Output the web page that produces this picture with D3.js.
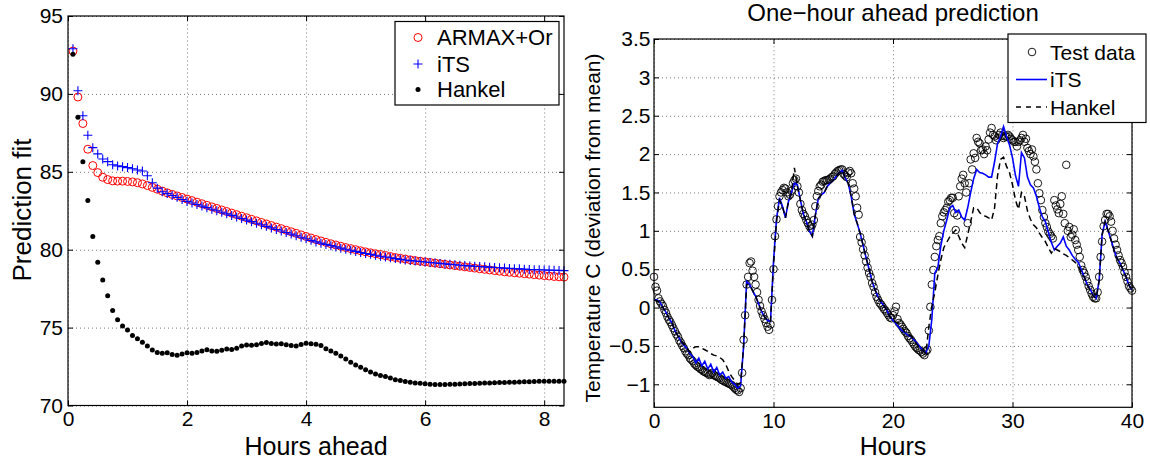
<!DOCTYPE html>
<html>
<head>
<meta charset="utf-8">
<script src="https://cdn.jsdelivr.net/npm/d3@7"></script>
<style>
body { margin: 0; background: #fff; }
svg { font-family: "Liberation Sans", Arial, Helvetica, sans-serif; }
.grid line { stroke: #7a7a7a; stroke-dasharray: 1,3; }
.grid path { display: none; }
</style>
</head>
<body>
<svg id="chart"></svg>
<script>
// ---- left panel: fit vs horizon (steps of 5 min) ----
const horizonHours = d3.range(1, 101).map(k => k / 12);

const armaxFit = [
  92.75,89.8,88.1,86.45,85.4,84.95,84.65,84.5,84.42,84.4,
  84.4,84.38,84.35,84.3,84.22,84.12,84.0,83.88,83.76,83.65,
  83.55,83.45,83.35,83.25,83.15,83.05,82.95,82.85,82.75,82.65,
  82.55,82.45,82.35,82.25,82.15,82.05,81.95,81.85,81.75,81.65,
  81.55,81.45,81.35,81.25,81.15,81.05,80.95,80.85,80.75,80.65,
  80.56,80.47,80.38,80.3,80.22,80.14,80.07,80.0,79.93,79.86,
  79.8,79.74,79.68,79.62,79.56,79.5,79.45,79.4,79.35,79.3,
  79.26,79.22,79.18,79.14,79.1,79.06,79.02,78.98,78.94,78.9,
  78.86,78.82,78.78,78.74,78.7,78.66,78.62,78.58,78.55,78.52,
  78.49,78.46,78.43,78.4,78.37,78.34,78.31,78.28,78.26,78.24
];
const itsFit = [
  92.9,90.2,88.6,87.35,86.55,86.15,85.82,85.65,85.45,85.38,
  85.33,85.27,85.2,85.12,85.05,84.75,84.3,83.95,83.72,83.6,
  83.48,83.36,83.22,83.1,83.0,82.9,82.8,82.7,82.6,82.5,
  82.4,82.3,82.2,82.1,82.0,81.9,81.8,81.7,81.6,81.5,
  81.4,81.3,81.2,81.1,81.0,80.9,80.8,80.7,80.6,80.5,
  80.42,80.34,80.26,80.18,80.1,80.03,79.96,79.89,79.82,79.76,
  79.7,79.64,79.58,79.53,79.48,79.43,79.38,79.34,79.3,79.27,
  79.24,79.21,79.18,79.15,79.12,79.09,79.06,79.03,79.0,78.98,
  78.96,78.94,78.92,78.9,78.88,78.86,78.84,78.82,78.8,78.78,
  78.77,78.75,78.73,78.72,78.71,78.7,78.69,78.68,78.67,78.66
];
const hankelFit = [
  92.55,88.5,85.65,83.15,80.85,79.2,78.05,77.05,76.1,75.5,
  75.1,74.85,74.5,74.28,74.06,73.82,73.56,73.4,73.36,73.39,
  73.28,73.22,73.3,73.38,73.36,73.4,73.5,73.58,73.5,73.48,
  73.55,73.62,73.6,73.68,73.82,73.88,73.86,73.9,73.98,74.05,
  73.98,73.95,73.97,73.9,73.85,73.82,73.92,74.0,73.97,73.93,
  73.85,73.65,73.5,73.35,73.18,72.98,72.78,72.6,72.45,72.3,
  72.15,72.02,71.92,71.86,71.76,71.66,71.6,71.54,71.49,71.45,
  71.43,71.4,71.37,71.35,71.34,71.35,71.36,71.37,71.38,71.4,
  71.41,71.42,71.43,71.44,71.45,71.46,71.47,71.48,71.49,71.5,
  71.51,71.52,71.53,71.54,71.55,71.55,71.55,71.55,71.55,71.56
];
const leftXTicks = [0, 2, 4, 6, 8];
const leftYTicks = [70, 75, 80, 85, 90, 95];

// ---- right panel: one-hour ahead prediction over 40 h ----
// test data every 7.5 min, predictions every 15 min
const testHours = d3.range(0, 321).map(i => i / 8);
const hours = d3.range(0, 161).map(i => i * 0.25);

const testData = [
  0.40,0.27,0.22,0.12,0.08,0.05,0.02,-0.03,
  -0.07,-0.12,-0.16,-0.19,-0.23,-0.27,-0.31,-0.35,
  -0.38,-0.43,-0.46,-0.50,-0.53,-0.57,-0.60,-0.62,
  -0.66,-0.68,-0.70,-0.73,-0.75,-0.77,-0.78,-0.80,
  -0.81,-0.83,-0.84,-0.85,-0.86,-0.88,-0.87,-0.85,
  -0.88,-0.89,-0.90,-0.91,-0.92,-0.94,-0.95,-0.96,
  -0.97,-0.98,-0.99,-1.00,-1.01,-1.03,-1.05,-1.07,
  -1.08,-1.10,-1.05,-0.85,-0.42,-0.10,0.30,0.40,
  0.58,0.60,0.48,0.40,0.30,0.20,0.10,0.02,
  -0.05,-0.10,-0.15,-0.20,-0.25,-0.29,-0.22,0.10,
  0.50,0.93,1.15,1.32,1.45,1.50,1.53,1.56,
  1.55,1.50,1.45,1.47,1.52,1.62,1.66,1.68,
  1.58,1.50,1.35,1.27,1.22,1.19,1.14,1.10,
  1.06,1.03,1.08,1.14,1.32,1.45,1.52,1.58,
  1.60,1.64,1.65,1.66,1.66,1.67,1.68,1.70,
  1.71,1.74,1.76,1.78,1.79,1.80,1.80,1.74,
  1.72,1.70,1.76,1.78,1.75,1.62,1.55,1.45,
  1.30,1.21,0.92,0.85,0.76,0.68,0.60,0.52,
  0.45,0.40,0.32,0.27,0.20,0.14,0.10,0.06,
  0.04,0.01,-0.02,-0.04,-0.07,-0.10,-0.13,-0.14,
  -0.10,-0.05,0.01,-0.15,-0.20,-0.22,-0.25,-0.28,
  -0.31,-0.33,-0.37,-0.40,-0.42,-0.45,-0.48,-0.51,
  -0.53,-0.55,-0.56,-0.58,-0.60,-0.62,-0.57,-0.55,
  -0.30,0.01,0.30,0.49,0.66,0.80,0.88,0.93,
  1.10,1.19,1.24,1.27,1.30,1.38,1.40,1.43,
  1.43,1.23,1.01,1.20,1.45,1.58,1.68,1.73,
  1.62,1.50,1.10,1.62,1.93,1.80,2.01,1.95,
  2.21,2.16,2.14,2.05,2.06,2.00,2.10,2.05,
  2.19,2.28,2.34,2.25,2.23,2.18,2.21,2.25,
  2.28,2.24,2.21,2.23,2.23,2.25,2.23,2.20,
  2.18,2.16,2.16,2.10,2.16,2.18,2.21,2.25,
  2.16,2.20,2.08,2.04,2.00,2.06,1.97,1.90,
  1.80,1.62,1.49,1.40,1.27,1.18,1.10,1.05,
  0.99,0.96,0.93,0.90,1.40,1.33,1.28,1.23,
  1.35,1.45,1.22,1.10,1.86,1.00,1.05,0.92,
  0.95,1.02,0.88,0.82,0.75,0.66,0.55,0.49,
  0.45,0.40,0.34,0.28,0.23,0.18,0.14,0.12,
  0.12,0.20,0.40,0.66,0.86,1.06,1.14,1.22,
  1.22,1.19,1.12,1.00,0.90,0.82,0.75,0.68,
  0.62,0.58,0.53,0.46,0.40,0.34,0.28,0.25,
  0.22
];
const itsPred = [
  0.10,0.10,0.07,0.00,  -0.06,-0.14,-0.20,-0.30,
  -0.37,-0.44,-0.49,-0.53,  -0.60,-0.64,-0.72,-0.66,
  -0.76,-0.70,-0.80,-0.74,  -0.84,-0.78,-0.88,-0.84,
  -0.92,-0.90,-0.97,-1.00,  -1.05,-1.02,-0.50,0.34,
  0.30,0.22,0.15,0.05,  -0.05,-0.12,-0.17,-0.18,
  0.60,1.15,1.43,1.32,  1.17,1.38,1.50,1.62,
  1.60,1.40,1.22,1.12,  1.00,0.93,1.20,1.42,
  1.47,1.50,1.58,1.62,  1.66,1.71,1.76,1.79,
  1.69,1.62,1.45,1.22,  1.10,0.97,0.81,0.65,
  0.50,0.34,0.23,0.14,  0.07,0.02,-0.04,-0.12,
  -0.17,-0.21,-0.26,-0.30,  -0.33,-0.36,-0.38,-0.42,
  -0.46,-0.51,-0.56,-0.59,  -0.50,-0.15,0.45,0.52,
  0.80,1.00,1.14,1.30,  1.33,1.24,1.27,1.18,
  1.14,1.30,1.50,1.68,  1.80,1.76,1.75,1.73,
  1.70,1.70,1.90,2.14,  2.23,2.36,2.23,2.12,
  1.95,1.72,1.58,2.02,  1.95,1.70,1.60,1.56,
  1.45,1.30,1.18,1.12,  0.98,0.85,0.75,0.80,
  0.84,0.92,0.80,0.75,  0.68,0.63,0.59,0.50,
  0.40,0.30,0.24,0.16,  0.12,0.35,0.95,1.12,
  1.00,0.88,0.75,0.64,  0.58,0.49,0.40,0.29,
  0.23
];
const hankelPred = [
  0.10,0.09,0.06,0.00,  -0.06,-0.14,-0.20,-0.30,
  -0.37,-0.43,-0.48,-0.53,  -0.58,-0.53,-0.51,-0.51,
  -0.53,-0.55,-0.57,-0.60,  -0.62,-0.63,-0.65,-0.68,
  -0.74,-0.83,-0.90,-0.95,  -1.00,-0.98,-0.50,0.30,
  0.30,0.22,0.15,0.05,  -0.05,-0.12,-0.17,-0.18,
  0.55,1.12,1.40,1.32,  1.17,1.38,1.50,1.82,
  1.58,1.40,1.22,1.12,  1.00,0.93,1.20,1.42,
  1.47,1.50,1.58,1.62,  1.66,1.71,1.76,1.79,
  1.69,1.62,1.45,1.22,  1.10,0.97,0.81,0.65,
  0.50,0.34,0.23,0.14,  0.07,0.02,-0.04,-0.12,
  -0.18,-0.19,-0.22,-0.26,  -0.32,-0.35,-0.37,-0.42,
  -0.48,-0.53,-0.56,-0.60,  -0.25,0.02,0.20,0.42,
  0.62,0.78,0.85,0.92,  0.97,1.01,0.93,0.84,
  0.78,0.95,1.12,1.30,  1.30,1.24,1.20,1.19,
  1.17,1.14,1.30,1.72,  1.93,1.96,1.84,1.76,
  1.60,1.40,1.28,1.50,  1.45,1.26,1.15,1.08,
  1.04,0.97,0.91,0.86,  0.78,0.71,0.77,0.75,
  0.73,0.70,0.68,0.65,  0.62,0.59,0.54,0.46,
  0.40,0.30,0.22,0.15,  0.12,0.35,0.95,1.12,
  1.00,0.88,0.75,0.64,  0.58,0.49,0.40,0.29,
  0.23
];
const rightXTicks = [0, 10, 20, 30, 40];
const rightYTicks = [-1, -0.5, 0, 0.5, 1, 1.5, 2, 2.5, 3, 3.5];

// ---- setup ----
const width = 1150, height = 461;
const svg = d3.select("#chart").attr("width", width).attr("height", height);

const xL = d3.scaleLinear().domain([0, 100 / 12]).range([68, 564]);
const yL = d3.scaleLinear().domain([70, 95]).range([405.5, 16]);
const xR = d3.scaleLinear().domain([0, 40]).range([654, 1132]);
const yR = d3.scaleLinear().domain([-1.3, 3.5]).range([407.3, 39]);

function grid(x, y, xt, yt) {
  const [xl, xr] = x.range(), [yb, yt0] = y.range();
  svg.append("g").attr("class", "grid").attr("transform", `translate(0,${yb})`)
    .call(d3.axisBottom(x).tickValues(xt).tickSize(-(yb - yt0)).tickFormat(""));
  svg.append("g").attr("class", "grid").attr("transform", `translate(${xl},0)`)
    .call(d3.axisLeft(y).tickValues(yt).tickSize(-(xr - xl)).tickFormat(""));
}

function frame(x, y, xt, yt, fs, padY) {
  const [xl, xr] = x.range(), [yb, yt0] = y.range();
  const fmt = d3.format("~g");
  const style = g => {
    g.attr("font-family", null).attr("font-size", fs);
    g.select(".domain").remove();
    g.selectAll("line").attr("stroke", "#000");
    g.selectAll("text").attr("fill", "#000");
  };
  svg.append("g").attr("transform", `translate(0,${yb})`)
    .call(d3.axisBottom(x).tickValues(xt).tickSizeInner(-5).tickSizeOuter(0).tickPadding(6).tickFormat(fmt)).call(style);
  svg.append("g").attr("transform", `translate(0,${yt0})`)
    .call(d3.axisTop(x).tickValues(xt).tickSizeInner(-5).tickSizeOuter(0).tickFormat("")).call(style);
  svg.append("g").attr("transform", `translate(${xl},0)`)
    .call(d3.axisLeft(y).tickValues(yt).tickSizeInner(-5).tickSizeOuter(0).tickPadding(padY).tickFormat(fmt)).call(style);
  svg.append("g").attr("transform", `translate(${xr},0)`)
    .call(d3.axisRight(y).tickValues(yt).tickSizeInner(-5).tickSizeOuter(0).tickFormat("")).call(style);
  svg.append("rect")
    .attr("x", xl).attr("y", yt0).attr("width", xr - xl).attr("height", yb - yt0)
    .attr("fill", "none").attr("stroke", "#000").attr("stroke-width", 1.2);
}

// ---- left panel ----
grid(xL, yL, leftXTicks, leftYTicks);

svg.append("g").selectAll("circle")
  .data(armaxFit)
  .enter()
  .append("circle")
  .attr("cx", (d, i) => xL(horizonHours[i]))
  .attr("cy", d => yL(d))
  .attr("r", 4)
  .attr("fill", "none")
  .attr("stroke", "#ff0000")
  .attr("stroke-width", 1);

svg.append("g").selectAll("path")
  .data(itsFit)
  .enter()
  .append("path")
  .attr("transform", (d, i) => `translate(${xL(horizonHours[i])},${yL(d)})`)
  .attr("d", "M-4.5,0H4.5M0,-4.5V4.5")
  .attr("stroke", "#0000ff")
  .attr("stroke-width", 1.1);

svg.append("g").selectAll("circle")
  .data(hankelFit)
  .enter()
  .append("circle")
  .attr("cx", (d, i) => xL(horizonHours[i]))
  .attr("cy", d => yL(d))
  .attr("r", 2.5)
  .attr("fill", "#000");

frame(xL, yL, leftXTicks, leftYTicks, 21, 5);

svg.append("text").attr("x", 316).attr("y", 455)
  .attr("text-anchor", "middle").attr("font-size", 25).text("Hours ahead");
svg.append("text").attr("transform", "translate(31,210) rotate(-90)")
  .attr("text-anchor", "middle").attr("font-size", 26).text("Prediction fit");

// left legend
const legL = svg.append("g");
legL.append("rect").attr("x", 395).attr("y", 21.5).attr("width", 164).attr("height", 83.5)
  .attr("fill", "#fff").attr("stroke", "#000").attr("stroke-width", 1.2);
legL.append("circle").attr("cx", 418).attr("cy", 37.5).attr("r", 4)
  .attr("fill", "none").attr("stroke", "#ff0000");
legL.append("path").attr("transform", "translate(418,64)").attr("d", "M-4.5,0H4.5M0,-4.5V4.5")
  .attr("stroke", "#0000ff").attr("stroke-width", 1.1);
legL.append("circle").attr("cx", 418).attr("cy", 89.5).attr("r", 2.5).attr("fill", "#000");
["ARMAX+Or", "iTS", "Hankel"].forEach((t, i) => {
  legL.append("text").attr("x", 437).attr("y", [37.5, 64, 89.5][i]).attr("dy", "0.36em")
    .attr("font-size", 22).text(t);
});

// ---- right panel ----
grid(xR, yR, rightXTicks, rightYTicks);

svg.append("g").selectAll("circle")
  .data(testData)
  .enter()
  .append("circle")
  .attr("cx", (d, i) => xR(testHours[i]))
  .attr("cy", d => yR(d))
  .attr("r", 3.8)
  .attr("fill", "none")
  .attr("stroke", "#000")
  .attr("stroke-width", 0.9);

const lineR = d3.line().x((d, i) => xR(hours[i])).y(d => yR(d));

svg.append("path").datum(itsPred)
  .attr("d", lineR).attr("fill", "none")
  .attr("stroke", "#0000ff").attr("stroke-width", 1.6);

svg.append("path").datum(hankelPred)
  .attr("d", lineR).attr("fill", "none")
  .attr("stroke", "#000").attr("stroke-width", 1.5).attr("stroke-dasharray", "6,4");

frame(xR, yR, rightXTicks, rightYTicks, 21, 3.5);

svg.append("text").attr("x", 893).attr("y", 21)
  .attr("text-anchor", "middle").attr("font-size", 24).text("One\u2212hour ahead prediction");
svg.append("text").attr("x", 893).attr("y", 455)
  .attr("text-anchor", "middle").attr("font-size", 25).text("Hours");
svg.append("text").attr("transform", "translate(600,228) rotate(-90)")
  .attr("text-anchor", "middle").attr("font-size", 21).text("Temperature C (deviation from mean)");

// right legend
const legR = svg.append("g");
legR.append("rect").attr("x", 1008).attr("y", 34).attr("width", 138).attr("height", 88.5)
  .attr("fill", "#fff").attr("stroke", "#000").attr("stroke-width", 1.2);
legR.append("circle").attr("cx", 1032).attr("cy", 52).attr("r", 3.8)
  .attr("fill", "none").attr("stroke", "#000").attr("stroke-width", 0.9);
legR.append("line").attr("x1", 1016).attr("x2", 1047).attr("y1", 79.5).attr("y2", 79.5)
  .attr("stroke", "#0000ff").attr("stroke-width", 1.6);
legR.append("line").attr("x1", 1016).attr("x2", 1047).attr("y1", 107).attr("y2", 107)
  .attr("stroke", "#000").attr("stroke-width", 1.5).attr("stroke-dasharray", "5,5");
["Test data", "iTS", "Hankel"].forEach((t, i) => {
  legR.append("text").attr("x", 1050).attr("y", [52, 79.5, 107][i]).attr("dy", "0.36em")
    .attr("font-size", 21).text(t);
});
</script>
</body>
</html>
